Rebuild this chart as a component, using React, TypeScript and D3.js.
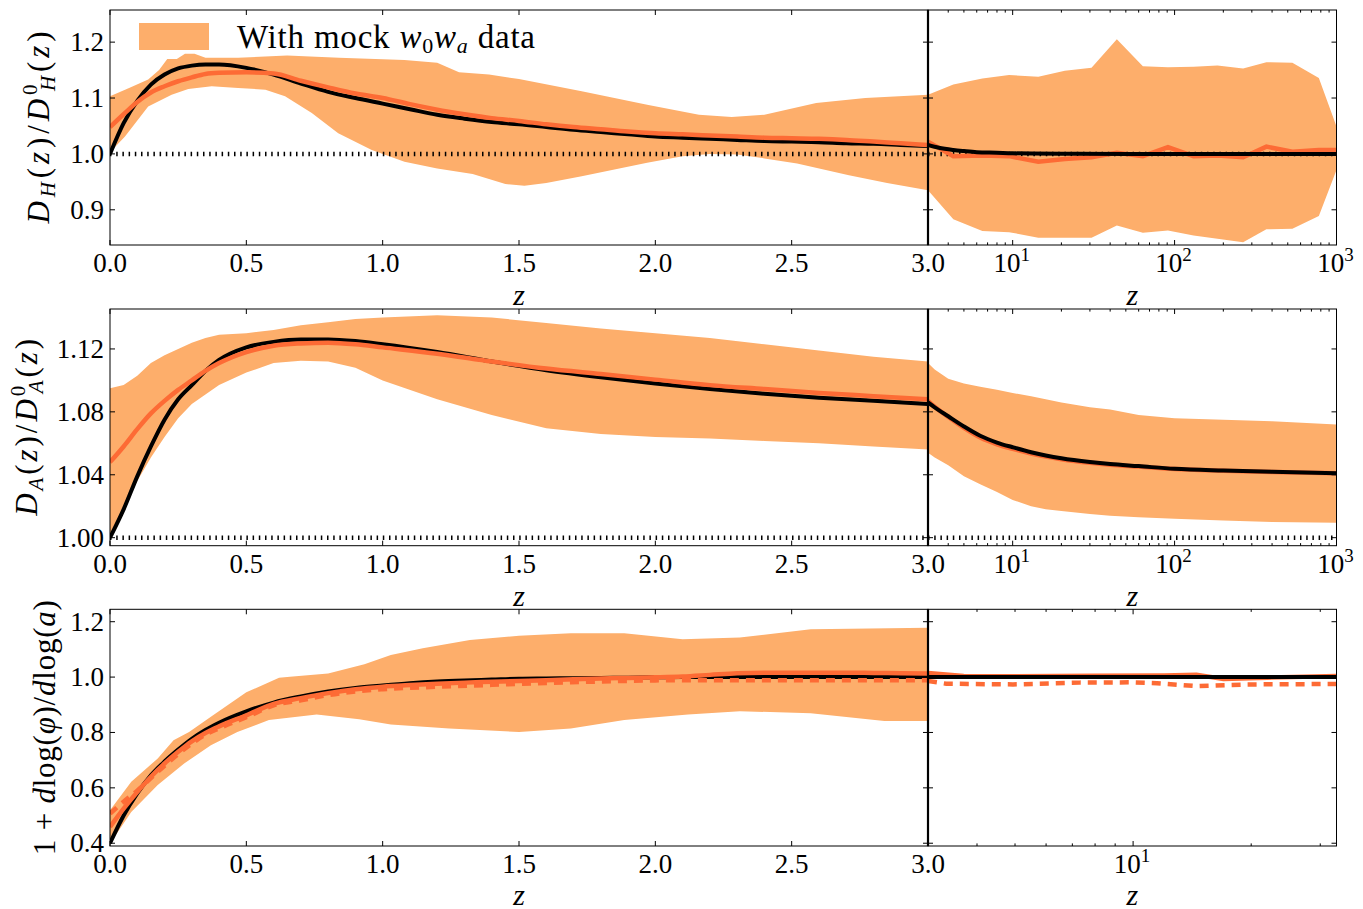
import React from "react";
import * as d3 from "d3";

// ---------- DATA ----------
// Panel 1: D_H(z)/D_H^0(z), linear z in [0,3]
const dhZ = [0, 0.05, 0.1, 0.15, 0.2, 0.25, 0.3, 0.35, 0.4, 0.5, 0.6, 0.7, 0.8, 0.9, 1.0, 1.1, 1.2, 1.3, 1.4, 1.5, 1.6, 1.7, 1.8, 1.9, 2.0, 2.1, 2.2, 2.3, 2.4, 2.5, 2.6, 2.7, 2.8, 2.9, 3.0];
const dhTheory = [1.0, 1.055, 1.095, 1.124, 1.142, 1.153, 1.158, 1.16, 1.16, 1.154, 1.142, 1.126, 1.111, 1.1, 1.09, 1.08, 1.07, 1.063, 1.057, 1.053, 1.048, 1.043, 1.039, 1.035, 1.031, 1.029, 1.027, 1.025, 1.023, 1.022, 1.021, 1.019, 1.018, 1.016, 1.014];
const dhRecon = [1.048, 1.071, 1.093, 1.11, 1.121, 1.13, 1.137, 1.143, 1.145, 1.146, 1.144, 1.131, 1.119, 1.108, 1.1, 1.089, 1.079, 1.071, 1.064, 1.059, 1.053, 1.048, 1.044, 1.04, 1.037, 1.035, 1.033, 1.031, 1.029, 1.028, 1.027, 1.025, 1.022, 1.019, 1.016];
const dhBandUpZ = [0, 0.07, 0.14, 0.18, 0.21, 0.245, 0.275, 0.31, 0.35, 0.47, 0.65, 0.84, 1.08, 1.2, 1.28, 1.39, 1.5, 1.73, 1.97, 2.16, 2.28, 2.4, 2.59, 2.77, 3.0];
const dhBandUp = [1.103, 1.118, 1.133, 1.15, 1.17, 1.17, 1.179, 1.179, 1.172, 1.172, 1.176, 1.172, 1.168, 1.163, 1.146, 1.142, 1.134, 1.112, 1.088, 1.07, 1.066, 1.07, 1.091, 1.1, 1.106];
const dhBandLoZ = [0, 0.055, 0.14, 0.226, 0.287, 0.373, 0.47, 0.57, 0.642, 0.74, 0.837, 0.96, 1.08, 1.2, 1.33, 1.45, 1.52, 1.6, 1.73, 1.85, 1.97, 2.1, 2.2, 2.3, 2.4, 2.52, 2.71, 2.85, 3.0];
const dhBandLo = [1.003, 1.031, 1.085, 1.106, 1.116, 1.121, 1.118, 1.115, 1.103, 1.073, 1.037, 1.007, 0.986, 0.974, 0.964, 0.946, 0.943, 0.948, 0.96, 0.972, 0.984, 0.996, 1.0, 0.999, 0.992, 0.983, 0.962, 0.948, 0.935];
// Panel 1, log z in [3,1000]
const dhLogZ = [3, 4.3, 6.5, 9.5, 14.4, 21, 30.7, 44, 63.7, 91, 131, 184, 265, 369, 534, 778, 1000];
const dhLogUp = [1.106, 1.124, 1.135, 1.141, 1.138, 1.149, 1.154, 1.205, 1.157, 1.155, 1.156, 1.158, 1.153, 1.164, 1.163, 1.136, 1.049];
const dhLogLo = [0.935, 0.883, 0.862, 0.86, 0.85, 0.85, 0.85, 0.872, 0.859, 0.863, 0.854, 0.848, 0.842, 0.865, 0.866, 0.889, 0.971];
const dhLogRecon = [1.022, 0.996, 0.997, 0.996, 0.986, 0.991, 0.994, 1.002, 0.996, 1.012, 0.996, 0.997, 0.994, 1.013, 1.004, 1.007, 1.007];
const dhLogThZ = [3, 3.5, 4.3, 5, 6, 8, 10, 20, 50, 100, 1000];
const dhLogTh = [1.016, 1.011, 1.007, 1.005, 1.003, 1.002, 1.001, 1.0005, 1.0, 1.0, 1.0];

// Panel 2: D_A(z)/D_A^0(z)
const daZ = [0, 0.05, 0.1, 0.15, 0.2, 0.25, 0.3, 0.35, 0.4, 0.5, 0.6, 0.7, 0.8, 0.9, 1.0, 1.2, 1.4, 1.6, 1.8, 2.0, 2.2, 2.4, 2.6, 2.8, 3.0];
const daTheory = [1.0, 1.018, 1.039, 1.058, 1.075, 1.088, 1.097, 1.106, 1.113, 1.121, 1.1245, 1.126, 1.126, 1.125, 1.123, 1.118, 1.112, 1.1065, 1.102, 1.098, 1.0945, 1.0915, 1.089, 1.087, 1.085];
const daRecon = [1.048, 1.058, 1.069, 1.079, 1.087, 1.094, 1.1, 1.106, 1.111, 1.118, 1.122, 1.1235, 1.124, 1.123, 1.121, 1.117, 1.112, 1.1075, 1.104, 1.1005, 1.097, 1.0945, 1.092, 1.09, 1.088];
const daBandUp = [1.095, 1.097, 1.103, 1.111, 1.116, 1.12, 1.124, 1.127, 1.129, 1.13, 1.132, 1.135, 1.137, 1.139, 1.14, 1.1415, 1.14, 1.1365, 1.133, 1.13, 1.127, 1.123, 1.119, 1.115, 1.112];
const daBandLo = [1.001, 1.018, 1.036, 1.051, 1.064, 1.076, 1.085, 1.091, 1.097, 1.105, 1.111, 1.1125, 1.112, 1.108, 1.1, 1.088, 1.078, 1.0695, 1.066, 1.064, 1.063, 1.0615, 1.06, 1.058, 1.056];
const daLogZ = [3, 3.3, 4, 5, 6.3, 8, 10, 13, 16, 20, 30, 40, 60, 100, 200, 400, 1000];
const daLogUp = [1.111, 1.107, 1.101, 1.098, 1.096, 1.094, 1.092, 1.09, 1.088, 1.086, 1.083, 1.0815, 1.078, 1.076, 1.075, 1.074, 1.072];
const daLogLo = [1.054, 1.051, 1.046, 1.039, 1.034, 1.029, 1.024, 1.02, 1.018, 1.017, 1.015, 1.014, 1.013, 1.012, 1.011, 1.01, 1.0095];
const daLogTheory = [1.086, 1.0829, 1.0772, 1.0707, 1.0648, 1.0605, 1.0575, 1.0543, 1.0523, 1.0505, 1.0481, 1.0468, 1.0455, 1.0438, 1.0427, 1.0419, 1.041];
const daLogRecon = [1.087, 1.0832, 1.0768, 1.0698, 1.0637, 1.0594, 1.0565, 1.0535, 1.0516, 1.0499, 1.0476, 1.0464, 1.0452, 1.0436, 1.0426, 1.0418, 1.041];

// Panel 3: 1 + dlog(phi)/dlog(a)
const phiZ = [0, 0.05, 0.1, 0.15, 0.2, 0.25, 0.3, 0.35, 0.4, 0.5, 0.6, 0.7, 0.8, 0.9, 1.0, 1.1, 1.2, 1.3, 1.4, 1.5, 1.6, 1.7, 1.8, 1.9, 2.0, 2.1, 2.2, 2.3, 2.4, 2.5, 2.6, 2.7, 2.8, 2.9, 3.0];
const phiTheory = [0.4, 0.5, 0.58, 0.645, 0.695, 0.738, 0.777, 0.809, 0.835, 0.876, 0.908, 0.93, 0.948, 0.961, 0.97, 0.978, 0.984, 0.988, 0.991, 0.994, 0.995, 0.996, 0.997, 0.998, 0.999, 1.0, 1.0, 1.0, 1.0, 1.0, 1.0, 1.0, 1.0, 1.0, 1.0];
const phiRecon = [0.459, 0.525, 0.585, 0.64, 0.688, 0.73, 0.768, 0.798, 0.822, 0.862, 0.903, 0.924, 0.942, 0.956, 0.965, 0.971, 0.976, 0.98, 0.983, 0.986, 0.989, 0.992, 0.995, 0.997, 0.999, 1.002, 1.008, 1.014, 1.016, 1.016, 1.016, 1.016, 1.015, 1.014, 1.013];
const phiAltZ = [0, 0.05, 0.1, 0.15, 0.2, 0.25, 0.3, 0.35, 0.4, 0.5, 0.6, 0.7, 0.8, 0.9, 1.0, 1.2, 1.4, 1.6, 1.8, 2.0, 2.2, 2.4, 2.6, 2.8, 3.0];
const phiReconAlt = [0.507, 0.55, 0.59, 0.635, 0.68, 0.722, 0.76, 0.792, 0.815, 0.855, 0.898, 0.916, 0.935, 0.948, 0.956, 0.965, 0.972, 0.979, 0.984, 0.988, 0.989, 0.989, 0.989, 0.989, 0.989];
const phiBandUpZ = [0, 0.078, 0.175, 0.233, 0.29, 0.37, 0.5, 0.62, 0.66, 0.8, 0.933, 1.03, 1.147, 1.32, 1.5, 1.69, 1.886, 2.1, 2.31, 2.57, 3.0];
const phiBandUp = [0.519, 0.622, 0.706, 0.772, 0.802, 0.857, 0.945, 0.998, 1.001, 1.013, 1.046, 1.08, 1.104, 1.134, 1.149, 1.158, 1.158, 1.137, 1.143, 1.173, 1.178];
const phiBandLoZ = [0, 0.078, 0.175, 0.272, 0.37, 0.467, 0.583, 0.758, 0.914, 1.03, 1.244, 1.5, 1.69, 1.886, 2.12, 2.31, 2.57, 2.84, 3.0];
const phiBandLo = [0.399, 0.513, 0.61, 0.688, 0.754, 0.802, 0.845, 0.865, 0.848, 0.829, 0.814, 0.802, 0.814, 0.845, 0.865, 0.877, 0.869, 0.841, 0.841];
const phiLogThZ = [3, 10, 33];
const phiLogTh = [1.0, 1.0, 1.0];
const phiLogReconZ = [3, 3.7, 5, 8, 12, 14.5, 17, 22, 33];
const phiLogRecon = [1.015, 1.004, 1.003, 1.005, 1.006, 1.008, 0.993, 0.998, 1.004];
const phiLogAltZ = [3, 3.34, 4.94, 7.3, 10, 11.5, 14.5, 19.5, 33];
const phiLogAlt = [0.986, 0.976, 0.9735, 0.98, 0.981, 0.978, 0.9675, 0.9735, 0.975];

// Tick labels
const linTicks = [0, 0.5, 1.0, 1.5, 2.0, 2.5];
const linTickLabels = ["0.0", "0.5", "1.0", "1.5", "2.0", "2.5"];
const dhYTicks = [0.9, 1.0, 1.1, 1.2];
const dhYLabels = ["0.9", "1.0", "1.1", "1.2"];
const daYTicks = [1.0, 1.04, 1.08, 1.12];
const daYLabels = ["1.00", "1.04", "1.08", "1.12"];
const phiYTicks = [0.4, 0.6, 0.8, 1.0, 1.2];
const phiYLabels = ["0.4", "0.6", "0.8", "1.0", "1.2"];

// ---------- STYLE / LAYOUT ----------
const W = 1363, H = 909;
const X0 = 110, XD = 928, X1 = 1336.5;
const BAND = "#fdae6b";
const ORANGE = "#fd6b35";
const FONT = "'Liberation Serif', 'Times New Roman', serif";
const TICK_FS = 27;

type Pt = [number, number];
const pts = (z: number[], v: number[]): Pt[] => z.map((d, i) => [d, v[i]] as Pt);

function lineD(x: any, y: any, data: Pt[], curve: any = d3.curveLinear) {
  return d3.line<Pt>().x(d => x(d[0])).y(d => y(d[1])).curve(curve)(data) || "";
}
function bandD(x: any, y: any, zu: number[], vu: number[], zl: number[], vl: number[]) {
  const all = [...pts(zu, vu), ...pts(zl, vl).reverse()];
  return lineD(x, y, all) + "Z";
}

function logMinor(lo: number, hi: number) {
  const out: number[] = [];
  for (let e = 0; e <= 3; e++) {
    for (let m = 2; m <= 9; m++) {
      const v = m * Math.pow(10, e);
      if (v > lo && v < hi) out.push(v);
    }
  }
  return out;
}

function Frame({ x0, x1, y0, y1, xs, ys, xMaj, xMin, yMaj }: any) {
  const els: any[] = [];
  const L = 5, l = 2.6;
  xMaj.forEach((t: number, i: number) => {
    const X = xs(t);
    els.push(<line key={"xb" + i} x1={X} x2={X} y1={y1} y2={y1 - L} stroke="#000" strokeWidth={1} />);
    els.push(<line key={"xt" + i} x1={X} x2={X} y1={y0} y2={y0 + L} stroke="#000" strokeWidth={1} />);
  });
  (xMin || []).forEach((t: number, i: number) => {
    const X = xs(t);
    els.push(<line key={"mb" + i} x1={X} x2={X} y1={y1} y2={y1 - l} stroke="#000" strokeWidth={1} />);
    els.push(<line key={"mt" + i} x1={X} x2={X} y1={y0} y2={y0 + l} stroke="#000" strokeWidth={1} />);
  });
  yMaj.forEach((t: number, i: number) => {
    const Y = ys(t);
    els.push(<line key={"yl" + i} x1={x0} x2={x0 + L} y1={Y} y2={Y} stroke="#000" strokeWidth={1} />);
    els.push(<line key={"yr" + i} x1={x1} x2={x1 - L} y1={Y} y2={Y} stroke="#000" strokeWidth={1} />);
  });
  return (
    <g>
      <rect x={x0} y={y0} width={x1 - x0} height={y1 - y0} fill="none" stroke="#000" strokeWidth={1} />
      {els}
    </g>
  );
}

function PowLabel({ x, y, exp }: any) {
  return (
    <text x={x - 1} y={y} textAnchor="middle" fontFamily={FONT} fontSize={TICK_FS}>
      10<tspan fontSize={19} dy={-11}>{exp}</tspan>
    </text>
  );
}

export default function App() {
  const xL = d3.scaleLinear().domain([0, 3]).range([X0, XD]);
  const xRt = d3.scaleLog().domain([3, 1000]).range([XD, X1]);
  const xRb = d3.scaleLog().domain([3, 33]).range([XD, X1]);

  const rows = [
    { top: 10, bottom: 245, y: d3.scaleLinear().domain([0.837, 1.2575]).range([245, 10]) },
    { top: 309, bottom: 545.7, y: d3.scaleLinear().domain([0.9949, 1.1454]).range([545.7, 309]) },
    { top: 609.3, bottom: 846, y: d3.scaleLinear().domain([0.39, 1.2448]).range([846, 609.3]) },
  ];
  const [r1, r2, r3] = rows;
  const smooth = d3.curveMonotoneX;
  const minorT = logMinor(3, 1000);
  const minorB = logMinor(3, 33);

  const dotted = (x: any, y: any, lo: number, hi: number, key: string) => (
    <path key={key} d={lineD(x, y, [[lo, 1.0], [hi, 1.0]])} stroke="#000" strokeWidth={4.5}
      strokeDasharray="1.5,4.7" fill="none" />
  );

  const xLabelsLin = (r: any, key: string) => (
    <g key={key}>
      {linTicks.map((t, i) => (
        <text key={i} x={xL(t)} y={r.bottom + 27} textAnchor="middle" fontFamily={FONT} fontSize={TICK_FS}>{linTickLabels[i]}</text>
      ))}
      <text x={XD} y={r.bottom + 27} textAnchor="middle" fontFamily={FONT} fontSize={TICK_FS}>3.0</text>
    </g>
  );
  const yLabels = (r: any, ticks: number[], labels: string[], key: string) => (
    <g key={key}>
      {ticks.map((t, i) => (
        <text key={i} x={104} y={r.y(t) + 9} textAnchor="end" fontFamily={FONT} fontSize={TICK_FS}>{labels[i]}</text>
      ))}
    </g>
  );
  const zTitle = (x: number, y: number, key: string) => (
    <text key={key} x={x} y={y} textAnchor="middle" fontFamily={FONT} fontStyle="italic" fontSize={30}>z</text>
  );

  return (
    <svg width={W} height={H} style={{ position: "absolute", left: 0, top: 0, background: "#fff" }}>
      <defs>
        {rows.map((r, i) => (
          <React.Fragment key={i}>
            <clipPath id={"cl" + i}><rect x={X0} y={r.top} width={XD - X0} height={r.bottom - r.top} /></clipPath>
            <clipPath id={"cr" + i}><rect x={XD} y={r.top} width={X1 - XD} height={r.bottom - r.top} /></clipPath>
          </React.Fragment>
        ))}
      </defs>
      <rect x={0} y={0} width={W} height={H} fill="#fff" />

      {/* ---- Row 1 ---- */}
      <g clipPath="url(#cl0)">
        <path d={bandD(xL, r1.y, dhBandUpZ, dhBandUp, dhBandLoZ, dhBandLo)} fill={BAND} />
        {dotted(xL, r1.y, 0, 3, "d1")}
        <path d={lineD(xL, r1.y, pts(dhZ, dhTheory), smooth)} stroke="#000" strokeWidth={4} fill="none" />
        <path d={lineD(xL, r1.y, pts(dhZ, dhRecon), smooth)} stroke={ORANGE} strokeWidth={4.5} fill="none" />
      </g>
      <g clipPath="url(#cr0)">
        <path d={bandD(xRt, r1.y, dhLogZ, dhLogUp, dhLogZ, dhLogLo)} fill={BAND} />
        {dotted(xRt, r1.y, 3, 1000, "d1r")}
        <path d={lineD(xRt, r1.y, pts(dhLogZ, dhLogRecon))} stroke={ORANGE} strokeWidth={4.5} fill="none" />
        <path d={lineD(xRt, r1.y, pts(dhLogThZ, dhLogTh), smooth)} stroke="#000" strokeWidth={4} fill="none" />
      </g>

      {/* ---- Row 2 ---- */}
      <g clipPath="url(#cl1)">
        <path d={bandD(xL, r2.y, daZ, daBandUp, daZ, daBandLo)} fill={BAND} />
        {dotted(xL, r2.y, 0, 3, "d2")}
        <path d={lineD(xL, r2.y, pts(daZ, daTheory), smooth)} stroke="#000" strokeWidth={4} fill="none" />
        <path d={lineD(xL, r2.y, pts(daZ, daRecon), smooth)} stroke={ORANGE} strokeWidth={4.5} fill="none" />
      </g>
      <g clipPath="url(#cr1)">
        <path d={bandD(xRt, r2.y, daLogZ, daLogUp, daLogZ, daLogLo)} fill={BAND} />
        {dotted(xRt, r2.y, 3, 1000, "d2r")}
        <path d={lineD(xRt, r2.y, pts(daLogZ, daLogRecon), smooth)} stroke={ORANGE} strokeWidth={4.5} fill="none" />
        <path d={lineD(xRt, r2.y, pts(daLogZ, daLogTheory), smooth)} stroke="#000" strokeWidth={4} fill="none" />
      </g>

      {/* ---- Row 3 ---- */}
      <g clipPath="url(#cl2)">
        <path d={bandD(xL, r3.y, phiBandUpZ, phiBandUp, phiBandLoZ, phiBandLo)} fill={BAND} />
        <path d={lineD(xL, r3.y, pts(phiZ, phiTheory), smooth)} stroke="#000" strokeWidth={4} fill="none" />
        <path d={lineD(xL, r3.y, pts(phiZ, phiRecon), smooth)} stroke={ORANGE} strokeWidth={4.5} fill="none" />
        <path d={lineD(xL, r3.y, pts(phiAltZ, phiReconAlt), smooth)} stroke={ORANGE} strokeWidth={4.5}
          strokeDasharray="9,7" fill="none" />
      </g>
      <g clipPath="url(#cr2)">
        <path d={lineD(xRb, r3.y, pts(phiLogReconZ, phiLogRecon))} stroke={ORANGE} strokeWidth={4.5} fill="none" />
        <path d={lineD(xRb, r3.y, pts(phiLogAltZ, phiLogAlt))} stroke={ORANGE} strokeWidth={4.5}
          strokeDasharray="9,7" fill="none" />
        <path d={lineD(xRb, r3.y, pts(phiLogThZ, phiLogTh))} stroke="#000" strokeWidth={4} fill="none" />
      </g>

      {/* ---- Frames ---- */}
      <Frame x0={X0} x1={XD} y0={r1.top} y1={r1.bottom} xs={xL} ys={r1.y} xMaj={[...linTicks, 3]} yMaj={dhYTicks} />
      <Frame x0={XD} x1={X1} y0={r1.top} y1={r1.bottom} xs={xRt} ys={r1.y} xMaj={[10, 100, 1000]} xMin={minorT} yMaj={dhYTicks} />
      <Frame x0={X0} x1={XD} y0={r2.top} y1={r2.bottom} xs={xL} ys={r2.y} xMaj={[...linTicks, 3]} yMaj={daYTicks} />
      <Frame x0={XD} x1={X1} y0={r2.top} y1={r2.bottom} xs={xRt} ys={r2.y} xMaj={[10, 100, 1000]} xMin={minorT} yMaj={daYTicks} />
      <Frame x0={X0} x1={XD} y0={r3.top} y1={r3.bottom} xs={xL} ys={r3.y} xMaj={[...linTicks, 3]} yMaj={phiYTicks} />
      <Frame x0={XD} x1={X1} y0={r3.top} y1={r3.bottom} xs={xRb} ys={r3.y} xMaj={[10]} xMin={minorB} yMaj={phiYTicks} />
      {rows.map((r, i) => (
        <line key={"div" + i} x1={XD} x2={XD} y1={r.top} y2={r.bottom} stroke="#000" strokeWidth={2.2} />
      ))}

      {/* ---- Tick labels ---- */}
      {xLabelsLin(r1, "xl1")}
      {xLabelsLin(r2, "xl2")}
      {xLabelsLin(r3, "xl3")}
      {[10, 100, 1000].map((t, i) => <PowLabel key={"p1" + i} x={xRt(t)} y={r1.bottom + 27} exp={String(i + 1)} />)}
      {[10, 100, 1000].map((t, i) => <PowLabel key={"p2" + i} x={xRt(t)} y={r2.bottom + 27} exp={String(i + 1)} />)}
      <PowLabel x={xRb(10)} y={r3.bottom + 27} exp="1" />
      {yLabels(r1, dhYTicks, dhYLabels, "yl1")}
      {yLabels(r2, daYTicks, daYLabels, "yl2")}
      {yLabels(r3, phiYTicks, phiYLabels, "yl3")}

      {/* ---- Axis titles ---- */}
      {zTitle(xL(1.5), r1.bottom + 60, "z1")}
      {zTitle(xRt(Math.sqrt(3000)), r1.bottom + 60, "z1r")}
      {zTitle(xL(1.5), r2.bottom + 60, "z2")}
      {zTitle(xRt(Math.sqrt(3000)), r2.bottom + 60, "z2r")}
      {zTitle(xL(1.5), r3.bottom + 58.5, "z3")}
      {zTitle(xRb(Math.sqrt(99)), r3.bottom + 58.5, "z3r")}

      <g fontFamily={FONT} fontSize={31}>
        <text transform={`translate(49, ${(r1.top + r1.bottom) / 2}) rotate(-90)`} textAnchor="middle"
          textLength={192} lengthAdjust="spacing">
          <tspan fontStyle="italic">D</tspan>
          <tspan fontStyle="italic" fontSize={21} dy={6}>H</tspan>
          <tspan dy={-6}>(</tspan><tspan fontStyle="italic">z</tspan><tspan>)/</tspan>
          <tspan fontStyle="italic">D</tspan>
          <tspan fontSize={21} dy={-12}>0</tspan>
          <tspan fontStyle="italic" fontSize={21} dx={-10.5} dy={18}>H</tspan>
          <tspan dy={-6}>(</tspan><tspan fontStyle="italic">z</tspan><tspan>)</tspan>
        </text>
        <text transform={`translate(37, ${(r2.top + r2.bottom) / 2}) rotate(-90)`} textAnchor="middle"
          textLength={177} lengthAdjust="spacing">
          <tspan fontStyle="italic">D</tspan>
          <tspan fontStyle="italic" fontSize={21} dy={6}>A</tspan>
          <tspan dy={-6}>(</tspan><tspan fontStyle="italic">z</tspan><tspan>)/</tspan>
          <tspan fontStyle="italic">D</tspan>
          <tspan fontSize={21} dy={-12}>0</tspan>
          <tspan fontStyle="italic" fontSize={21} dx={-10.5} dy={18}>A</tspan>
          <tspan dy={-6}>(</tspan><tspan fontStyle="italic">z</tspan><tspan>)</tspan>
        </text>
        <text transform={`translate(55, ${(r3.top + r3.bottom) / 2}) rotate(-90)`} textAnchor="middle"
          style={{ whiteSpace: "pre" }} textLength={255} lengthAdjust="spacing">
          <tspan>1 + </tspan><tspan fontStyle="italic">d</tspan><tspan>log(</tspan><tspan fontStyle="italic">φ</tspan>
          <tspan>)/</tspan><tspan fontStyle="italic">d</tspan><tspan>log(</tspan><tspan fontStyle="italic">a</tspan><tspan>)</tspan>
        </text>
      </g>

      {/* ---- Legend ---- */}
      <rect x={139} y={23} width={70} height={27} fill={BAND} />
      <text x={237} y={48} fontFamily={FONT} fontSize={33} style={{ whiteSpace: "pre" }}
        textLength={298} lengthAdjust="spacing">
        <tspan>With mock </tspan>
        <tspan fontStyle="italic">w</tspan>
        <tspan fontSize={22} dy={5}>0</tspan>
        <tspan fontStyle="italic" dy={-5}>w</tspan>
        <tspan fontStyle="italic" fontSize={22} dy={5}>a</tspan>
        <tspan dy={-5}> data</tspan>
      </text>
    </svg>
  );
}
